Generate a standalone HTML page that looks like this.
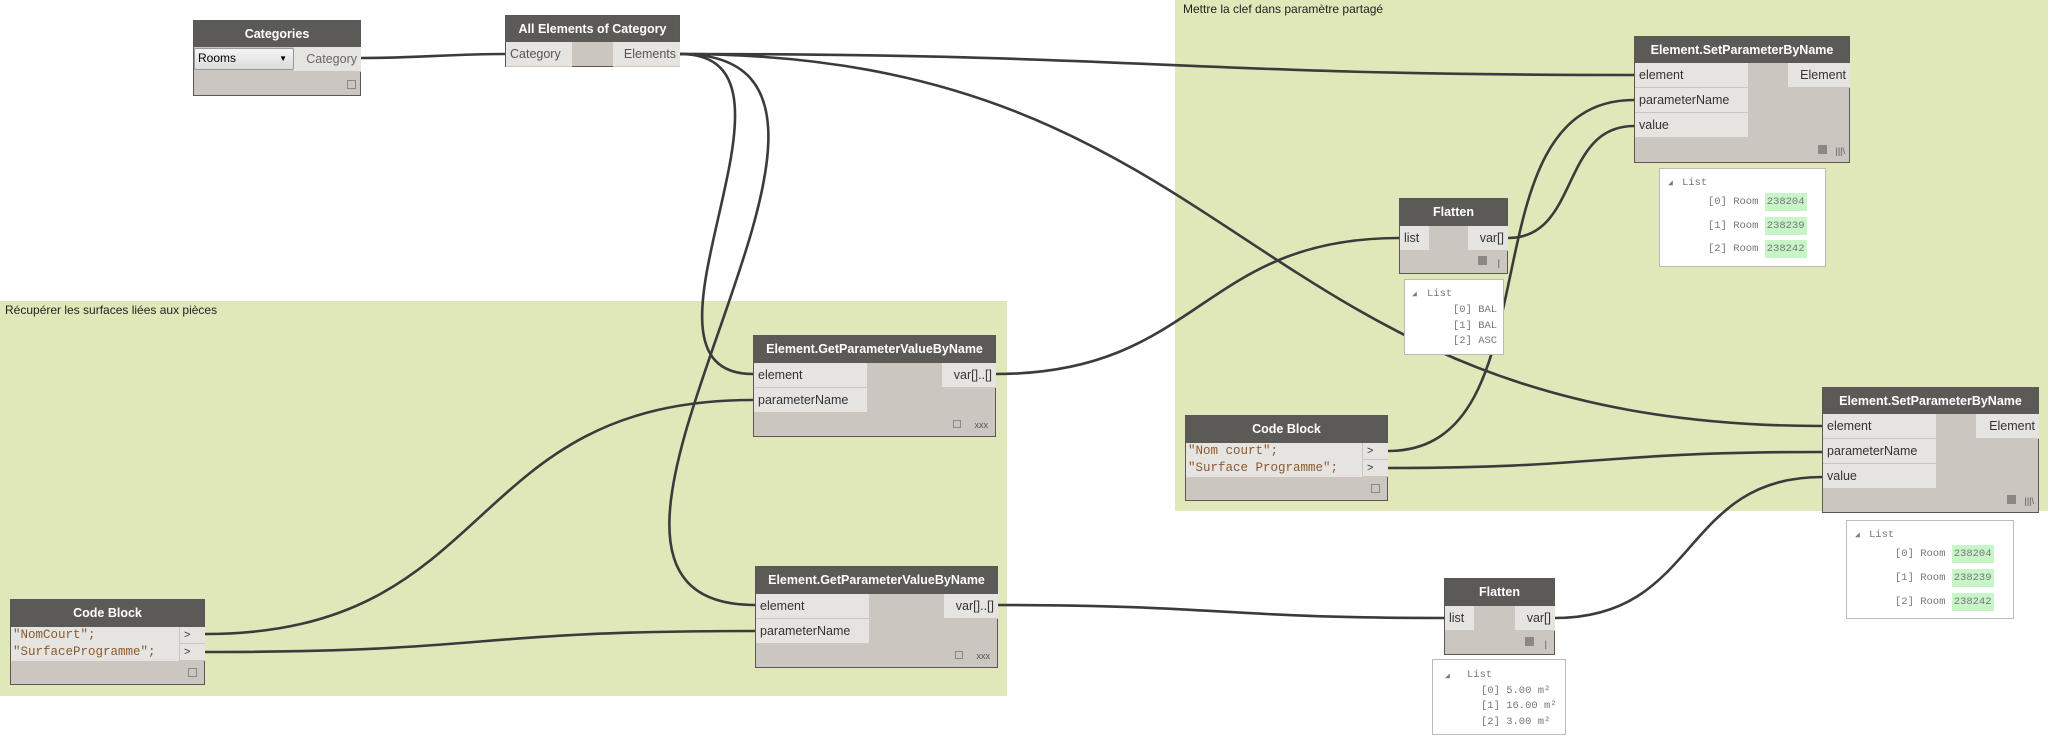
<!DOCTYPE html>
<html><head><meta charset="utf-8">
<style>
*{box-sizing:border-box;margin:0;padding:0}
body{width:2064px;height:736px;background:#fff;position:relative;overflow:hidden;font-family:"Liberation Sans","DejaVu Sans",sans-serif}
.grp{position:absolute;background:#e0e8ba}
.glabel{position:absolute;font-size:12px;color:#222}
.node{position:absolute;background:#cbc6bf;border:1px solid #5a5856}
.hd{position:absolute;left:0;right:0;top:0;background:#5c5a57;color:#fff;font-size:12.5px;font-weight:bold;text-align:center}
.port{position:absolute;background:#e6e4e0;font-size:12.5px;color:#333;padding-left:4px;border-bottom:1px solid #cbc6bf}
.out{text-align:right;padding-right:4px;padding-left:0}
.foot{position:absolute;font-size:9px;color:#555}
.sq{position:absolute;width:9px;height:9px;background:#8a8784}
.sqo{position:absolute;width:9px;height:9px;border:1px solid #888;}
.code{font-family:"Liberation Mono",monospace;color:#8b5a2e;font-size:12.5px}
.watch{position:absolute;background:#fff;border:1px solid #bbb;font-family:"Liberation Mono",monospace;font-size:10.5px;color:#777}
.watch div{position:absolute;white-space:nowrap}
.gv{background:#c8f5c8;padding:3px 2px}
svg{position:absolute;left:0;top:0}
</style></head><body>

<div class="grp" style="left:0;top:301px;width:1007px;height:395px"></div>
<div class="glabel" style="left:5px;top:303px">Récupérer les surfaces liées aux pièces</div>
<div class="grp" style="left:1175px;top:0;width:873px;height:511px"></div>
<div class="glabel" style="left:1183px;top:2px">Mettre la clef dans paramètre partagé</div>

<svg width="2064" height="736" fill="none" stroke="#3b3b3b" stroke-width="2.6">
<path d="M361 58 C420 58 450 54 505 54"/>
<path d="M680 54 C1150 54 1170 75 1634 75"/>
<path d="M680 54 C1250 54 1240 426 1822 426"/>
<path d="M680 54 C830 54 610 374 753 374"/>
<path d="M680 54 C950 54 490 605 755 605"/>
<path d="M996 374 C1200 374 1200 238 1399 238"/>
<path d="M1508 238 C1580 238 1560 126 1634 126"/>
<path d="M1388 451 C1560 451 1460 100 1634 100"/>
<path d="M1388 468 C1600 468 1600 452 1822 452"/>
<path d="M1555 618 C1700 618 1680 477 1822 477"/>
<path d="M998 605 C1220 605 1220 618 1444 618"/>
<path d="M205 634 C500 634 460 400 753 400"/>
<path d="M205 652 C500 652 460 631 755 631"/>
</svg>

<!-- Categories -->
<div class="node" style="left:193px;top:20px;width:168px;height:76px">
 <div class="hd" style="height:26px;line-height:26px">Categories</div>
 <div style="position:absolute;left:0;top:27px;width:100px;height:22px;background:linear-gradient(#f4f4f4,#dcdcdc);border:1px solid #999;border-radius:2px;font-size:12px;line-height:19px;padding-left:3px">Rooms<span style="position:absolute;right:6px;font-size:8px">▼</span></div>
 <div class="port out" style="left:100px;top:26px;width:67px;height:25px;line-height:25px;color:#666">Category</div>
 <div class="sqo" style="right:4px;bottom:6px"></div>
</div>
<!-- All Elements -->
<div class="node" style="left:505px;top:15px;width:175px;height:52px">
 <div class="hd" style="height:26px;line-height:26px">All Elements of Category</div>
 <div class="port" style="left:0;top:26px;width:66px;height:25px;line-height:25px;color:#555">Category</div>
 <div class="port out" style="left:107px;top:26px;width:67px;height:25px;line-height:25px;color:#555">Elements</div>
</div>

<!-- GetParam 1 -->
<div class="node" style="left:753px;top:335px;width:243px;height:102px">
 <div class="hd" style="height:27px;line-height:27px">Element.GetParameterValueByName</div>
 <div class="port" style="left:0;top:27px;width:113px;height:25px;line-height:24px">element</div>
 <div class="port" style="left:0;top:52px;width:113px;height:25px;line-height:24px">parameterName</div>
 <div class="port out" style="left:188px;top:27px;width:54px;height:25px;line-height:24px">var[]..[]</div>
 <div class="sqo" style="right:34px;bottom:8px;width:8px;height:8px"></div><div class="foot" style="right:7px;bottom:6px">xxx</div>
</div>
<!-- GetParam 2 -->
<div class="node" style="left:755px;top:566px;width:243px;height:102px">
 <div class="hd" style="height:27px;line-height:27px">Element.GetParameterValueByName</div>
 <div class="port" style="left:0;top:27px;width:113px;height:25px;line-height:24px">element</div>
 <div class="port" style="left:0;top:52px;width:113px;height:25px;line-height:24px">parameterName</div>
 <div class="port out" style="left:188px;top:27px;width:54px;height:25px;line-height:24px">var[]..[]</div>
 <div class="sqo" style="right:34px;bottom:8px;width:8px;height:8px"></div><div class="foot" style="right:7px;bottom:6px">xxx</div>
</div>

<!-- Code block left -->
<div class="node" style="left:10px;top:599px;width:195px;height:86px">
 <div class="hd" style="height:27px;line-height:27px">Code Block</div>
 <div class="port code" style="left:0;top:27px;width:168px;height:17px;line-height:16px;padding-left:2px;border:none">"NomCourt";</div>
 <div class="port code" style="left:0;top:44px;width:168px;height:17px;line-height:16px;padding-left:2px;border:none">"SurfaceProgramme";</div>
 <div class="port" style="left:169px;top:27px;width:25px;height:17px;line-height:16px;font-size:11px">&gt;</div>
 <div class="port" style="left:169px;top:44px;width:25px;height:17px;line-height:16px;font-size:11px">&gt;</div>
 <div class="sqo" style="right:7px;bottom:7px"></div>
</div>

<!-- Code block right -->
<div class="node" style="left:1185px;top:415px;width:203px;height:86px">
 <div class="hd" style="height:27px;line-height:27px">Code Block</div>
 <div class="port code" style="left:0;top:27px;width:176px;height:17px;line-height:16px;padding-left:2px;border:none">"Nom court";</div>
 <div class="port code" style="left:0;top:44px;width:176px;height:17px;line-height:16px;padding-left:2px;border:none">"Surface Programme";</div>
 <div class="port" style="left:177px;top:27px;width:25px;height:17px;line-height:16px;font-size:11px">&gt;</div>
 <div class="port" style="left:177px;top:44px;width:25px;height:17px;line-height:16px;font-size:11px">&gt;</div>
 <div class="sqo" style="right:7px;bottom:7px"></div>
</div>

<!-- SetParam 1 -->
<div class="node" style="left:1634px;top:36px;width:216px;height:127px">
 <div class="hd" style="height:26px;line-height:26px">Element.SetParameterByName</div>
 <div class="port" style="left:0;top:26px;width:113px;height:25px;line-height:24px">element</div>
 <div class="port" style="left:0;top:51px;width:113px;height:25px;line-height:24px">parameterName</div>
 <div class="port" style="left:0;top:76px;width:113px;height:25px;line-height:24px">value</div>
 <div class="port out" style="left:153px;top:26px;width:62px;height:25px;line-height:24px">Element</div>
 <div class="sq" style="right:22px;bottom:8px"></div><div class="foot" style="right:4px;bottom:6px">|||\</div>
</div>
<!-- SetParam 2 -->
<div class="node" style="left:1822px;top:387px;width:217px;height:126px">
 <div class="hd" style="height:26px;line-height:26px">Element.SetParameterByName</div>
 <div class="port" style="left:0;top:26px;width:113px;height:25px;line-height:24px">element</div>
 <div class="port" style="left:0;top:51px;width:113px;height:25px;line-height:24px">parameterName</div>
 <div class="port" style="left:0;top:76px;width:113px;height:25px;line-height:24px">value</div>
 <div class="port out" style="left:153px;top:26px;width:63px;height:25px;line-height:24px">Element</div>
 <div class="sq" style="right:22px;bottom:8px"></div><div class="foot" style="right:4px;bottom:6px">|||\</div>
</div>

<!-- Flatten 1 -->
<div class="node" style="left:1399px;top:198px;width:109px;height:76px">
 <div class="hd" style="height:27px;line-height:27px">Flatten</div>
 <div class="port" style="left:0;top:27px;width:29px;height:25px;line-height:24px">list</div>
 <div class="port out" style="left:68px;top:27px;width:40px;height:25px;line-height:24px">var[]</div>
 <div class="sq" style="right:20px;bottom:8px"></div><div class="foot" style="right:7px;bottom:5px">|</div>
</div>
<!-- Flatten 2 -->
<div class="node" style="left:1444px;top:578px;width:111px;height:77px">
 <div class="hd" style="height:27px;line-height:27px">Flatten</div>
 <div class="port" style="left:0;top:27px;width:29px;height:25px;line-height:24px">list</div>
 <div class="port out" style="left:70px;top:27px;width:40px;height:25px;line-height:24px">var[]</div>
 <div class="sq" style="right:20px;bottom:8px"></div><div class="foot" style="right:7px;bottom:5px">|</div>
</div>

<!-- Watches -->
<div class="watch" style="left:1659px;top:168px;width:167px;height:99px">
 <div style="left:8px;top:9px;font-size:8px">◢</div><div style="left:22px;top:8px">List</div>
 <div style="left:48px;top:27px">[0] Room <span class="gv">238204</span></div>
 <div style="left:48px;top:51px">[1] Room <span class="gv">238239</span></div>
 <div style="left:48px;top:74px">[2] Room <span class="gv">238242</span></div>
</div>
<div class="watch" style="left:1846px;top:520px;width:168px;height:99px">
 <div style="left:8px;top:9px;font-size:8px">◢</div><div style="left:22px;top:8px">List</div>
 <div style="left:48px;top:27px">[0] Room <span class="gv">238204</span></div>
 <div style="left:48px;top:51px">[1] Room <span class="gv">238239</span></div>
 <div style="left:48px;top:75px">[2] Room <span class="gv">238242</span></div>
</div>
<div class="watch" style="left:1404px;top:279px;width:100px;height:76px">
 <div style="left:7px;top:9px;font-size:8px">◢</div><div style="left:22px;top:8px">List</div>
 <div style="left:48px;top:24px">[0] BAL</div>
 <div style="left:48px;top:40px">[1] BAL</div>
 <div style="left:48px;top:55px">[2] ASC</div>
</div>
<div class="watch" style="left:1432px;top:659px;width:134px;height:76px">
 <div style="left:12px;top:11px;font-size:8px">◢</div><div style="left:34px;top:9px">List</div>
 <div style="left:48px;top:25px">[0] 5.00 m²</div>
 <div style="left:48px;top:40px">[1] 16.00 m²</div>
 <div style="left:48px;top:56px">[2] 3.00 m²</div>
</div>

</body></html>
